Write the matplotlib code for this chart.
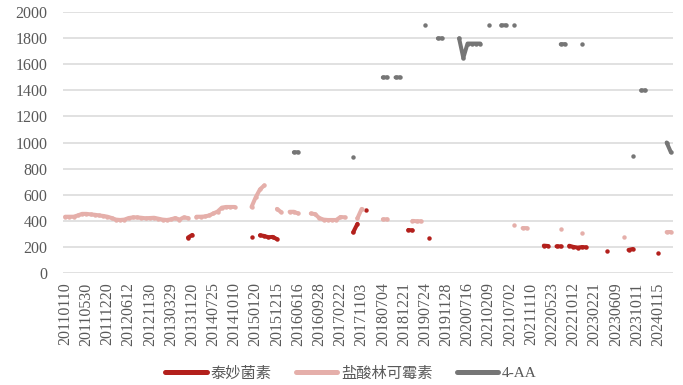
import numpy as np
import matplotlib
matplotlib.use("Agg")
import matplotlib.pyplot as plt
from matplotlib.lines import Line2D

# ---- data -------------------------------------------------------------
N_CATEGORIES = 144
tick_labels = ["20110110", "20110530", "20111220", "20120612", "20121130",
               "20130329", "20131120", "20140725", "20141010", "20150120",
               "20151215", "20160616", "20160928", "20170222", "20171103",
               "20180704", "20181221", "20190724", "20191128", "20200716",
               "20210209", "20210702", "20211110", "20220523", "20221012",
               "20230221", "20230609", "20231011", "20240115"]
tick_step = 5

series_names = ["泰妙菌素", "盐酸林可霉素", "4-AA"]

# runs: (start category index, consecutive values)
tiamulin_runs = [
    (29, [270, 290]),
    (44, [275]),
    (46, [288, 282, 272, 275, 258]),
    (68, [310, 375]),
    (71, [478]),
    (81, [328, 325]),
    (86, [265]),
    (113, [208, 205]),
    (116, [203, 202]),
    (119, [207, 198, 193, 197, 195]),
    (128, [167]),
    (133, [175, 182]),
    (140, [155]),
]

lincomycin_runs = [
    (0, [430, 430, 430, 440, 452, 452, 448, 445, 440, 436,
         430, 420, 408, 405, 408, 420, 425, 425, 422, 418,
         420, 422, 415, 408, 405, 410, 420, 408, 425, 420]),
    (31, [430, 430, 432, 440, 455, 470, 500, 505, 505, 505]),
    (44, [505, 580, 640, 670]),
    (50, [490, 465]),
    (53, [468, 468, 455]),
    (58, [455, 450, 420, 408, 405, 405, 405, 428, 425]),
    (69, [418, 490]),
    (75, [410, 410]),
    (82, [398, 395, 395]),
    (106, [365]),
    (108, [343, 342]),
    (117, [333]),
    (122, [302]),
    (132, [272]),
    (142, [312, 312]),
]

aa_runs = [
    (54, [925, 925]),
    (68, [885]),
    (75, [1500, 1500]),
    (78, [1500, 1500]),
    (85, [1900]),
    (88, [1800, 1800]),
    (93, [1800, 1650, 1760, 1760, 1760, 1760]),
    (100, [1900]),
    (103, [1900, 1900]),
    (106, [1900]),
    (117, [1755, 1755]),
    (122, [1755]),
    (134, [900]),
    (136, [1400, 1400]),
    (142, [1000, 925]),
]

colors = ["#B3201C", "#E5AFAA", "#767676"]


def expand(runs, n):
    arr = np.full(n, np.nan)
    for start, vals in runs:
        arr[start:start + len(vals)] = vals
    return arr


# ---- figure -----------------------------------------------------------
fig = plt.figure(figsize=(6.83, 3.85), dpi=100)
ax = fig.add_axes([63 / 683, 1 - 272.7 / 385, 610 / 683, (272.7 - 12.3) / 385])

x = np.arange(N_CATEGORIES)
for runs, c in zip([tiamulin_runs, lincomycin_runs, aa_runs], colors):
    y = expand(runs, N_CATEGORIES)
    ax.plot(x, y, color=c, lw=2.9, solid_capstyle="round",
            solid_joinstyle="round", marker="o", ms=3.2, mew=0, zorder=3)

ax.set_xlim(-0.5, N_CATEGORIES - 0.5)
ax.set_ylim(0, 2000)
ax.set_yticks(np.arange(0, 2001, 200))
ax.set_xticks(np.arange(0, len(tick_labels) * tick_step, tick_step))
ax.set_xticklabels(tick_labels, rotation=90)

serif = "Liberation Serif"
for lab in ax.get_yticklabels() + ax.get_xticklabels():
    lab.set_fontfamily(serif)
    lab.set_fontsize(11.5)
    lab.set_color("#595959")

ax.tick_params(axis="both", length=0)
ax.tick_params(axis="y", pad=11)
ax.tick_params(axis="x", pad=7)
ax.grid(axis="y", color="#D9D9D9", lw=1.1)
ax.set_axisbelow(True)
for s in ax.spines.values():
    s.set_visible(False)

handles = [Line2D([0], [0], color=c, lw=3.6, solid_capstyle="round")
           for c in colors]
leg = fig.legend(handles, series_names, loc="center",
                 bbox_to_anchor=(0.514, 0.03), ncol=3, frameon=False,
                 handlelength=2.7, handletextpad=0.25, columnspacing=1.6,
                 borderpad=0.2,
                 prop={"family": [serif, "Noto Sans CJK SC"], "size": 11})
for t in leg.get_texts():
    t.set_color("#595959")

fig.savefig("out.png", dpi=100)
